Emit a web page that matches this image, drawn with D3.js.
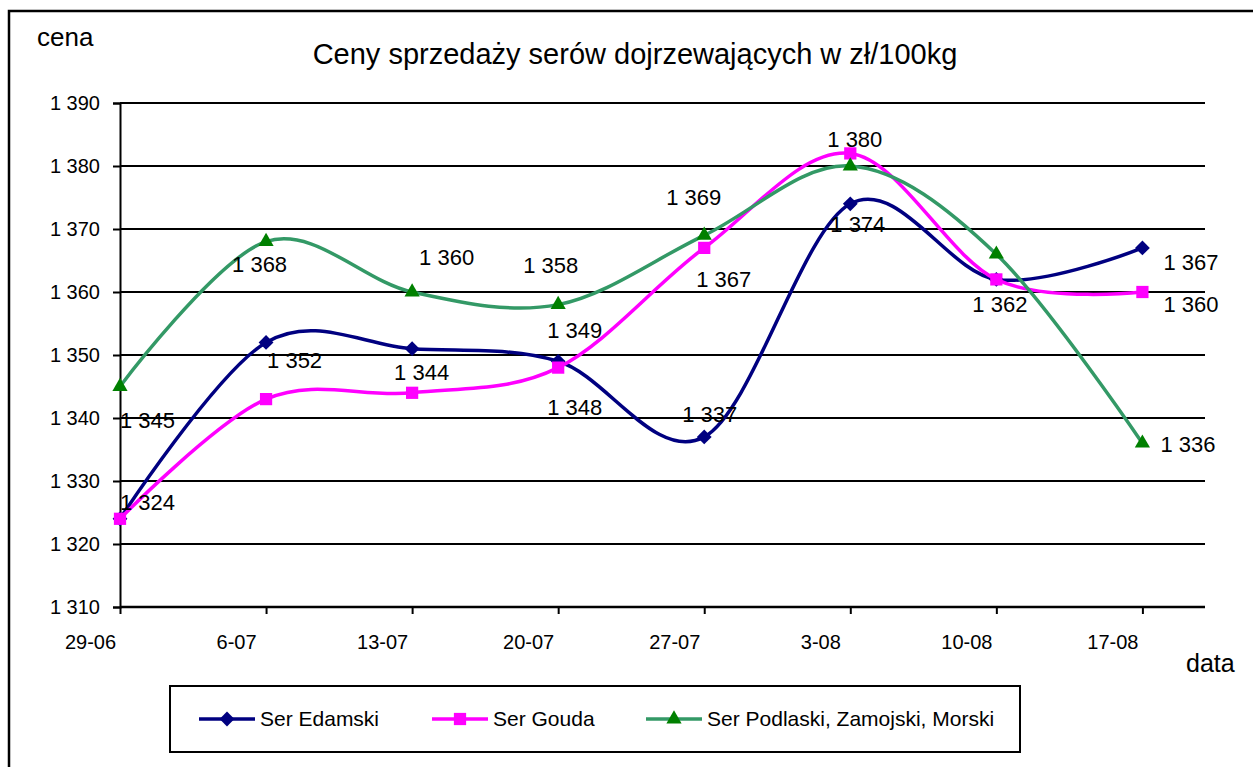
<!DOCTYPE html>
<html>
<head>
<meta charset="utf-8">
<script src="https://cdn.jsdelivr.net/npm/d3@7"></script>
<style>
  body { margin: 0; background: #fff; }
  svg { display: block; }
  text { font-family: "Liberation Sans", Arial, sans-serif; fill: #000; }
</style>
</head>
<body>
<div class="chart"></div>
<script>
// data
var dates = ["29-06", "6-07", "13-07", "20-07", "27-07", "3-08", "10-08", "17-08"];
var edamski = [1324, 1352, 1351, 1349, 1337, 1374, 1362, 1367];
var gouda = [1324, 1343, 1344, 1348, 1367, 1382, 1362, 1360];
var podlaski = [1345, 1368, 1360, 1358, 1369, 1380, 1366, 1336];
var seriesNames = ["Ser Edamski", "Ser Gouda", "Ser Podlaski, Zamojski, Morski"];
var yTicks = [1310, 1320, 1330, 1340, 1350, 1360, 1370, 1380, 1390];
var xEnd = "20-08";

// where each value label sits relative to its point (null = no label)
var edamskiLabelPos = [[0, -9], [1, 26], null, [-11, -23], [-22, -15], [-20, 28], [-24, 33], [21, 22]];
var goudaLabelPos = [null, null, [-18, -13], [-11, 47], [-8, 39], null, null, [21, 20]];
var podlaskiLabelPos = [[0, 41], [-34, 30], [7, -27], [-35, -32], [-38, -30], [-23, -19], null, [18, 9]];

var svgWidth = 1253;
var svgHeight = 767;
var plot = { left: 120, right: 1205, top: 103, bottom: 607 };

var svg = d3.select(".chart")
  .append("svg")
  .attr("width", svgWidth)
  .attr("height", svgHeight);

// outer frame (cut by the picture on right and bottom)
svg.append("path")
  .attr("d", "M9,770 V11 H1260")
  .attr("fill", "none")
  .attr("stroke", "#000")
  .attr("stroke-width", 2.5);

var parseDay = d3.timeParse("%d-%m");
var days = dates.map(parseDay);

var x = d3.scaleTime()
  .domain([days[0], parseDay(xEnd)])
  .range([plot.left, plot.right]);

var y = d3.scaleLinear()
  .domain([1310, 1390])
  .range([plot.bottom, plot.top]);

var fmt = d3.formatLocale({ decimal: ",", thousands: " ", grouping: [3], currency: ["", ""] }).format(",d");

// gridlines
svg.append("g")
  .selectAll("line")
  .data(yTicks)
  .join("line")
  .attr("x1", plot.left)
  .attr("x2", plot.right)
  .attr("y1", d => y(d))
  .attr("y2", d => y(d))
  .attr("stroke", "#000")
  .attr("stroke-width", 2);

// y axis
var leftAxis = d3.axisLeft(y).tickValues(yTicks).tickSize(7).tickPadding(13).tickFormat(fmt);
var yAxisG = svg.append("g")
  .attr("transform", `translate(${plot.left},0)`)
  .call(leftAxis);
yAxisG.select(".domain").attr("stroke-width", 2);
yAxisG.selectAll(".tick line").attr("stroke-width", 2);
yAxisG.selectAll("text").style("font-size", "20px").attr("dy", "0.34em");

// x axis
var bottomAxis = d3.axisBottom(x).tickValues(days).tickSize(7).tickPadding(21).tickFormat(d3.timeFormat("%-d-%m"));
var xAxisG = svg.append("g")
  .attr("transform", `translate(0,${plot.bottom})`)
  .call(bottomAxis);
xAxisG.select(".domain").attr("stroke-width", 2.5).attr("d", `M${plot.left},0H${plot.right}`);
xAxisG.selectAll(".tick line").attr("stroke-width", 2);
xAxisG.selectAll("text").style("font-size", "20px").attr("dx", -30);

// axis titles and chart title
svg.append("text").attr("x", 37).attr("y", 46).style("font-size", "26px").text("cena");
svg.append("text").attr("x", 1186).attr("y", 672).style("font-size", "25px").text("data");
svg.append("text")
  .attr("x", 635).attr("y", 64)
  .attr("text-anchor", "middle")
  .style("font-size", "29px")
  .text("Ceny sprzedaży serów dojrzewających w zł/100kg");

var series = [
  { name: seriesNames[0], values: edamski, labels: edamskiLabelPos, line: "#000080", fill: "#000080", symbol: d3.symbolSquare, size: 110, rotate: 45 },
  { name: seriesNames[1], values: gouda, labels: goudaLabelPos, line: "#ff00ff", fill: "#ff00ff", symbol: d3.symbolSquare, size: 150, rotate: 0 },
  { name: seriesNames[2], values: podlaski, labels: podlaskiLabelPos, line: "#339966", fill: "#008000", symbol: d3.symbolTriangle, size: 100, rotate: 0 }
];

var line = d3.line()
  .x((d, i) => x(days[i]))
  .y(d => y(d))
  .curve(d3.curveCatmullRom.alpha(0));

series.forEach(function(s) {
  svg.append("path")
    .datum(s.values)
    .attr("d", line)
    .attr("fill", "none")
    .attr("stroke", s.line)
    .attr("stroke-width", 3.5)
    .attr("stroke-linejoin", "round");

  svg.append("g")
    .selectAll("path")
    .data(s.values)
    .join("path")
    .attr("d", d3.symbol(s.symbol, s.size))
    .attr("fill", s.fill)
    .attr("transform", (d, i) => `translate(${x(days[i])},${y(d)}) rotate(${s.rotate})`);
});

// value labels
series.forEach(function(s) {
  s.values.forEach(function(v, i) {
    var p = s.labels[i];
    if (!p) return;
    svg.append("text")
      .attr("x", x(days[i]) + p[0])
      .attr("y", y(v) + p[1])
      .style("font-size", "22px")
      .text(fmt(v));
  });
});

// legend
var legend = svg.append("g");
legend.append("rect")
  .attr("x", 170).attr("y", 686)
  .attr("width", 850).attr("height", 66)
  .attr("fill", "#fff")
  .attr("stroke", "#000")
  .attr("stroke-width", 2);

var legendX = [199, 432, 646];
series.forEach(function(s, i) {
  var g = legend.append("g").attr("transform", `translate(${legendX[i]},719)`);
  g.append("line")
    .attr("x1", 0).attr("x2", 56)
    .attr("stroke", s.line)
    .attr("stroke-width", 3.5);
  g.append("path")
    .attr("d", d3.symbol(s.symbol, s.size))
    .attr("fill", s.fill)
    .attr("transform", `translate(28,0) rotate(${s.rotate})`);
  g.append("text")
    .attr("x", 61).attr("y", 7)
    .style("font-size", "21px")
    .text(s.name);
});
</script>
</body>
</html>
